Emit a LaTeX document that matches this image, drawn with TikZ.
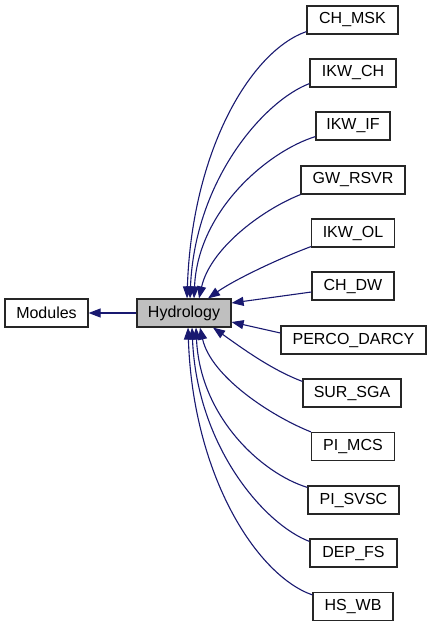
\documentclass[tikz,border=0pt]{standalone}
\usepackage{fontspec}
\setmainfont{Liberation Sans}
\usetikzlibrary{arrows.meta}
\definecolor{edgeblue}{RGB}{25,25,112}
\definecolor{boxgray}{RGB}{191,191,191}
\tikzset{
  box/.style={draw=black!85, line width=1.2pt, fill=white, rectangle, inner sep=0pt,
    minimum height=28pt, font=\fontsize{16}{18}\selectfont},
  edge/.style={draw=edgeblue, line width=1.1pt, -{Triangle[length=12pt,width=9pt]}, fill=none}
}
\begin{document}
\begin{tikzpicture}[x=1pt,y=-1pt]
\useasboundingbox (0,0) rectangle (432,627);
\node[box, minimum width=83pt] (mod) at (46.5,313) {Modules};
\node[box, minimum width=94pt, fill=boxgray] (hyd) at (184,313) {Hydrology};
\node[box, minimum width=91pt] (chmsk) at (352.5,20) {CH\_MSK};
\node[box, minimum width=86pt] (ikwch) at (353,73) {IKW\_CH};
\node[box, minimum width=74pt] (ikwif) at (353,126) {IKW\_IF};
\node[box, minimum width=104pt] (gw) at (353,180) {GW\_RSVR};
\node[box, minimum width=83pt] (ikwol) at (353,233) {IKW\_OL};
\node[box, minimum width=82pt] (chdw) at (353,286) {CH\_DW};
\node[box, minimum width=145pt] (perco) at (353.5,340) {PERCO\_DARCY};
\node[box, minimum width=98pt] (sur) at (352,393) {SUR\_SGA};
\node[box, minimum width=83pt] (pimcs) at (353,446.5) {PI\_MCS};
\node[box, minimum width=91pt] (pisvsc) at (353.5,500) {PI\_SVSC};
\node[box, minimum width=87pt] (depfs) at (353.5,553) {DEP\_FS};
\node[box, minimum width=80pt] (hswb) at (353,606.5) {HS\_WB};

\draw[edge] (hyd.west) -- (mod.east);

\draw[edge] ([yshift=3pt]chmsk.south west) .. controls +(-55,19) and +(5,-149) .. ([xshift=3pt]hyd.north);
\draw[edge] ([yshift=4pt]ikwch.south west) .. controls +(-45,17) and +(5,-119) .. ([xshift=6pt]hyd.north);
\draw[edge] ([yshift=4pt]ikwif.south west) .. controls +(-46,14) and +(4,-89) .. ([xshift=10pt]hyd.north);
\draw[edge] (gw.south west) .. controls +(-40,16) and +(11,-49) .. ([xshift=15pt]hyd.north);
\draw[edge] ([yshift=1pt]ikwol.south west) .. controls +(-32,12) and +(27,-19) .. ([xshift=24pt]hyd.north);
\draw[edge] ([yshift=-6pt]chdw.west) -- ([yshift=10pt]hyd.east);
\draw[edge] ([yshift=7pt]perco.west) -- ([yshift=-9pt]hyd.east);
\draw[edge] ([yshift=-3pt]sur.north west) .. controls +(-32,-12) and +(27,19) .. ([xshift=29pt]hyd.south);
\draw[edge] (pimcs.north west) .. controls +(-40,-16) and +(11,49) .. ([xshift=16pt]hyd.south);
\draw[edge] ([yshift=-2pt]pisvsc.north west) .. controls +(-46,-14) and +(4,89) .. ([xshift=12pt]hyd.south);
\draw[edge] ([yshift=-3pt]depfs.north west) .. controls +(-45,-17) and +(5,119) .. ([xshift=8pt]hyd.south);
\draw[edge] ([yshift=-3pt]hswb.north west) .. controls +(-55,-19) and +(5,149) .. ([xshift=4pt]hyd.south);
\end{tikzpicture}
\end{document}
